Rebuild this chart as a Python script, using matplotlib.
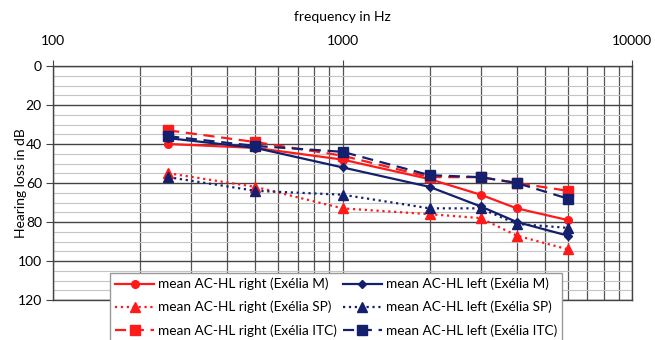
import matplotlib.pyplot as plt
from matplotlib.ticker import LogLocator, NullFormatter, MultipleLocator

# === Data ===
freqs = [250, 500, 1000, 2000, 3000, 4000, 6000]
right_m = [40, 42, 48, 58, 66, 73, 79]
right_sp = [55, 62, 73, 76, 78, 87, 94]
right_itc = [33, 39, 46, 57, 57, 60, 64]
left_m = [37, 42, 52, 62, 72, 80, 87]
left_sp = [57, 64, 66, 73, 73, 81, 83]
left_itc = [36, 41, 44, 56, 57, 60, 68]

x_ticks = [100, 1000, 10000]
y_ticks = [0, 20, 40, 60, 80, 100, 120]

RED = '#ff1a1a'
NAVY = '#14206e'

plt.rcParams['font.family'] = ['Lato', 'DejaVu Sans']

fig = plt.figure(figsize=(6.55, 3.4), dpi=100)
ax = fig.add_axes([53 / 655, 1 - 300 / 340, (632 - 53) / 655, (300 - 66) / 340])

# === Series ===
ax.plot(freqs, right_m, '-', color=RED, lw=1.6, marker='o', ms=5.5,
        label='mean AC-HL right (Exélia M)')
ax.plot(freqs, right_sp, ':', color=RED, lw=1.6, marker='^', ms=6.5,
        label='mean AC-HL right (Exélia SP)')
ax.plot(freqs, right_itc, '--', color=RED, lw=1.6, marker='s', ms=6.5,
        dashes=(5, 3), label='mean AC-HL right (Exélia ITC)')
ax.plot(freqs, left_m, '-', color=NAVY, lw=1.6, marker='D', ms=4.5,
        label='mean AC-HL left (Exélia M)')
ax.plot(freqs, left_sp, ':', color=NAVY, lw=1.6, marker='^', ms=6.5,
        label='mean AC-HL left (Exélia SP)')
ax.plot(freqs, left_itc, '--', color=NAVY, lw=1.6, marker='s', ms=6.5,
        dashes=(5, 3), label='mean AC-HL left (Exélia ITC)')

# === Axes ===
ax.set_xscale('log')
ax.set_xlim(100, 10000)
ax.xaxis.tick_top()
ax.xaxis.set_label_position('top')
ax.set_xticks(x_ticks)
ax.set_xticklabels([str(t) for t in x_ticks])
ax.xaxis.set_minor_locator(LogLocator(base=10, subs=range(2, 10)))
ax.xaxis.set_minor_formatter(NullFormatter())
ax.set_xlabel('frequency in Hz', fontsize=10, labelpad=10)

ax.set_ylim(120, 0)
ax.set_yticks(y_ticks)
ax.yaxis.set_minor_locator(MultipleLocator(5))
ax.set_ylabel('Hearing loss in dB', fontsize=10)
ax.yaxis.set_label_coords(-0.045, 0.5)

ax.tick_params(axis='x', which='major', length=4, pad=10, labelsize=10,
               color='#444')
ax.tick_params(axis='y', which='major', length=5, pad=3, labelsize=10,
               color='#444')
ax.tick_params(which='minor', length=0)

ax.grid(True, axis='x', which='both', color='#555', lw=0.9)
ax.grid(True, axis='y', which='major', color='#444', lw=1.0)
ax.grid(True, axis='y', which='minor', color='#c4c4c4', lw=0.8)
ax.set_axisbelow(True)
for s in ax.spines.values():
    s.set_color('#444')
    s.set_linewidth(1.0)

# === Legend ===
fig.legend(loc='upper left', bbox_to_anchor=(110 / 655, 1 - 273 / 340),
           ncol=2, fontsize=9.8, frameon=True, fancybox=False, framealpha=1,
           edgecolor='#999', handlelength=2.9, handletextpad=0.3,
           columnspacing=0.4, labelspacing=0.78, borderpad=0.35,
           borderaxespad=0)

fig.savefig('out.png', dpi=100)
